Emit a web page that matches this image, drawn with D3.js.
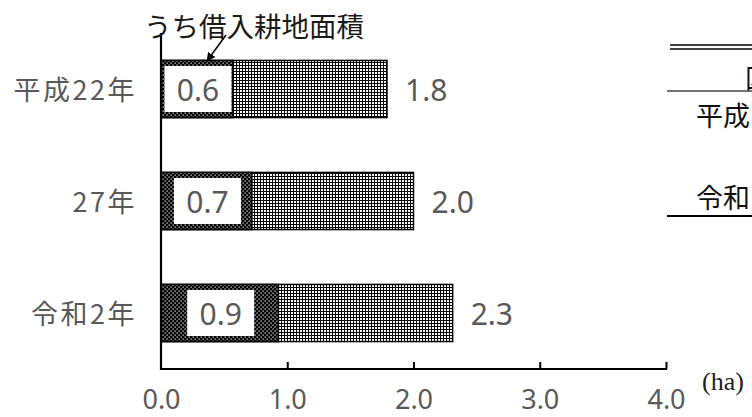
<!DOCTYPE html>
<html><head><meta charset="utf-8">
<script src="https://cdn.jsdelivr.net/npm/d3@7"></script>
<style>
html,body{margin:0;padding:0;background:#fff;overflow:hidden}
svg{display:block}
</style></head>
<body>
<script>
// ---- data ----
const categories = ["平成22年", "27年", "令和2年"];
const totalArea = [1.79, 2.00, 2.31];      // 経営耕地面積 (ha)
const borrowedArea = [0.57, 0.72, 0.93];   // うち借入耕地面積 (ha)
const xTicks = [0, 1, 2, 3, 4];
const unitLabel = "(ha)";
const annotation = "うち借入耕地面積";
const tableHeader = "区";
const tableRows = ["平成", "令和"];

const W = 752, H = 417;
const svg = d3.select("body").append("svg").attr("width", W).attr("height", H);

const defs = svg.append("defs");
// dark dotted pattern (borrowed)
const p1 = defs.append("pattern").attr("id", "patDark").attr("patternUnits", "userSpaceOnUse")
  .attr("width", 4).attr("height", 4);
p1.append("rect").attr("width", 4).attr("height", 4).attr("fill", "#000");
p1.append("rect").attr("x", 0.5).attr("y", 0.5).attr("width", 1.2).attr("height", 1.2).attr("fill", "#fff");
p1.append("rect").attr("x", 2.5).attr("y", 2.5).attr("width", 1.2).attr("height", 1.2).attr("fill", "#fff");
// grid pattern (total)
const p2 = defs.append("pattern").attr("id", "patGrid").attr("patternUnits", "userSpaceOnUse")
  .attr("width", 3).attr("height", 3);
p2.append("rect").attr("width", 3).attr("height", 3).attr("fill", "#fff");
p2.append("rect").attr("x", 2).attr("y", 0).attr("width", 1).attr("height", 3).attr("fill", "#000");
p2.append("rect").attr("x", 0).attr("y", 2).attr("width", 3).attr("height", 1).attr("fill", "#000");
defs.append("marker").attr("id", "arrow").attr("viewBox", "0 0 10 10").attr("refX", 9).attr("refY", 5)
  .attr("markerWidth", 9).attr("markerHeight", 9).attr("markerUnits", "userSpaceOnUse").attr("orient", "auto")
  .append("path").attr("d", "M0,0L10,5L0,10z").attr("fill", "#000");

const x = d3.scaleLinear().domain([0, 4]).range([161, 666]);
const y = d3.scaleBand().domain(categories).range([33, 369]).paddingInner(0.49).paddingOuter(0.245);

const jp = "'Noto Sans CJK JP', 'Noto Sans', sans-serif";
const gray = "#595959";

// total bars
svg.append("g").selectAll("rect").data(categories).join("rect")
  .attr("x", x(0)).attr("y", d => y(d))
  .attr("width", (d, i) => x(totalArea[i]) - x(0)).attr("height", y.bandwidth())
  .attr("fill", "url(#patGrid)").attr("stroke", "#000").attr("stroke-width", 1.5);
// borrowed bars
svg.append("g").selectAll("rect").data(categories).join("rect")
  .attr("x", x(0)).attr("y", d => y(d))
  .attr("width", (d, i) => x(borrowedArea[i]) - x(0)).attr("height", y.bandwidth())
  .attr("fill", "url(#patDark)").attr("stroke", "#000").attr("stroke-width", 1.5);

// label boxes for borrowed
const bw = 67, bh = 46;
const lab = svg.append("g").selectAll("g").data(categories).join("g")
  .attr("transform", (d, i) => `translate(${(x(0) + x(borrowedArea[i])) / 2 + 1},${y(d) + y.bandwidth() / 2})`);
lab.append("rect").attr("x", -bw / 2).attr("y", -bh / 2).attr("width", bw).attr("height", bh).attr("fill", "#fff");
lab.append("text").attr("text-anchor", "middle").attr("dominant-baseline", "central")
  .attr("font-family", "'Noto Sans', sans-serif").attr("font-size", 30).attr("fill", gray)
  .text((d, i) => d3.format(".1f")(borrowedArea[i]));

// total value labels
svg.append("g").selectAll("text").data(categories).join("text")
  .attr("x", (d, i) => x(totalArea[i]) + 18).attr("y", d => y(d) + y.bandwidth() / 2)
  .attr("dominant-baseline", "central")
  .attr("font-family", "'Noto Sans', sans-serif").attr("font-size", 30).attr("fill", gray)
  .text((d, i) => d3.format(".1f")(totalArea[i]));

// category labels
svg.append("g").selectAll("text").data(categories).join("text")
  .attr("x", 137).attr("y", d => y(d) + y.bandwidth() / 2 - 1)
  .attr("text-anchor", "end").attr("dominant-baseline", "central")
  .attr("font-family", jp).attr("font-size", 27).attr("letter-spacing", 2.5).attr("fill", gray)
  .text(d => d);

// axes
const ax = svg.append("g").attr("transform", `translate(0,369)`)
  .call(d3.axisBottom(x).tickValues(xTicks).tickFormat(d3.format(".1f")).tickSize(-7).tickPadding(0));
ax.select(".domain").remove();
ax.selectAll(".tick line").attr("stroke", "#000").attr("stroke-width", 2)
  .attr("display", d => d === 0 ? "none" : null);
ax.selectAll(".tick text").attr("font-family", "'Noto Sans', sans-serif").attr("font-size", 27)
  .attr("fill", gray).attr("y", 29).attr("dy", null).attr("dominant-baseline", "central");
svg.append("line").attr("x1", x(0)).attr("x2", x(4) + 1).attr("y1", 369).attr("y2", 369)
  .attr("stroke", "#000").attr("stroke-width", 2.2);
svg.append("line").attr("x1", x(0)).attr("x2", x(0)).attr("y1", 33).attr("y2", 370)
  .attr("stroke", "#000").attr("stroke-width", 2.2);

svg.append("text").attr("x", x(4) + 36).attr("y", 381).attr("dominant-baseline", "central")
  .attr("font-family", "'Liberation Serif', serif").attr("font-size", 26).attr("fill", "#222")
  .text(unitLabel);

// annotation
svg.append("text").attr("x", 144).attr("y", 25).attr("dominant-baseline", "central")
  .attr("font-family", jp).attr("font-size", 27.5).attr("fill", "#1a1a1a").text(annotation);
svg.append("line").attr("x1", 226).attr("y1", 35).attr("x2", 207).attr("y2", 61)
  .attr("stroke", "#000").attr("stroke-width", 1.5).attr("marker-end", "url(#arrow)");

// partial table on the right
const tb = svg.append("g");
tb.append("line").attr("x1", 670).attr("x2", 752).attr("y1", 45).attr("y2", 45).attr("stroke", "#000").attr("stroke-width", 1.5);
tb.append("line").attr("x1", 670).attr("x2", 752).attr("y1", 49).attr("y2", 49).attr("stroke", "#000").attr("stroke-width", 1.5);
tb.append("line").attr("x1", 667).attr("x2", 752).attr("y1", 91).attr("y2", 91).attr("stroke", "#444").attr("stroke-width", 1.5);
tb.append("line").attr("x1", 667).attr("x2", 752).attr("y1", 216).attr("y2", 216).attr("stroke", "#000").attr("stroke-width", 2);
tb.append("text").attr("x", 745).attr("y", 76).attr("dominant-baseline", "central")
  .attr("font-family", jp).attr("font-size", 26).attr("fill", "#111").text(tableHeader);
tb.selectAll("text.row").data(tableRows).join("text").attr("class", "row")
  .attr("x", 696).attr("y", (d, i) => [114, 196][i]).attr("dominant-baseline", "central")
  .attr("font-family", jp).attr("font-size", 27).attr("fill", "#111").text(d => d);
</script>
</body></html>
